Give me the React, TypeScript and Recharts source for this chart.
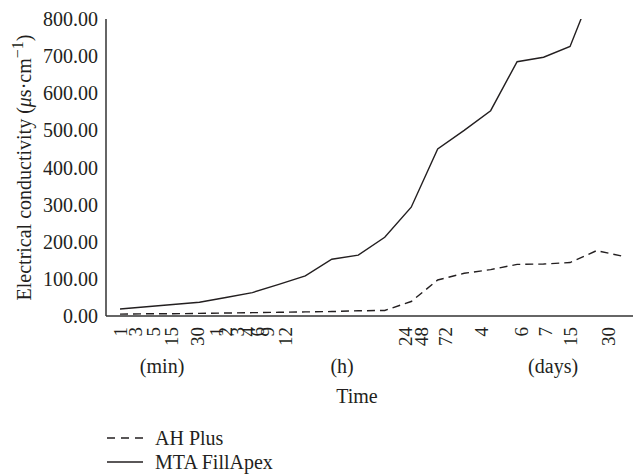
import React from "react";
import { LineChart, Line, XAxis, YAxis, Legend } from "recharts";

const FONT = '"Liberation Serif", "Times New Roman", serif';
const INK = "#231f20";

// sampling times (labels under the axis)
const timeLabels = ["1", "3", "5", "15", "30", "1", "2", "3", "4", "6", "9", "12", "24", "48", "72", "4", "6", "7", "15", "30"];
const ahPlus = [5, 6, 6, 7, 8, 9, 10, 11, 12, 14, 15, 39, 97, 115, 125, 139, 140, 144, 176, 161];
const mtaFillApex = [19, 25, 31, 37, 50, 63, 85, 108, 153, 164, 212, 293, 450, 500, 553, 685, 697, 726, 905, 960];
const yTicks = [0, 100, 200, 300, 400, 500, 600, 700, 800];

const seriesNames = ["AH Plus", "MTA FillApex"];
const seriesDash = ["8 5", undefined];

const groupLabels = ["(min)", "(h)", "(days)"];

// where the labels sit along the axis, in sample-index units (layout only)
const labelPos = [0, 0.6, 1.25, 1.96, 2.91, 3.63, 4.0, 4.42, 4.84, 5.21, 5.59, 6.27, 10.8, 11.37, 12.28, 13.64, 15.15, 16.09, 17.0, 18.47];
const groupPos = [1.59, 8.39, 16.36];
const titlePos = 8.95;

const data = timeLabels.map((time, i) => ({
  idx: i,
  time,
  ah: ahPlus[i],
  mta: mtaFillApex[i],
}));

function TimeTick(props: any) {
  const { x, y, payload } = props;
  const v = payload.value;
  const i = labelPos.indexOf(v);
  if (i >= 0) {
    return (
      <text
        transform={`translate(${x},${y + 3}) rotate(-90)`}
        textAnchor="end"
        dominantBaseline="central"
        fontFamily={FONT}
        fontSize={19}
        fill={INK}
      >
        {timeLabels[i]}
      </text>
    );
  }
  const g = groupPos.indexOf(v);
  if (g >= 0) {
    return (
      <text x={x} y={y + 49} textAnchor="middle" fontFamily={FONT} fontSize={20} fill={INK}>
        {groupLabels[g]}
      </text>
    );
  }
  return (
    <text x={x} y={y + 79} textAnchor="middle" fontFamily={FONT} fontSize={20} fill={INK}>
      Time
    </text>
  );
}

function YTitle(props: any) {
  const { viewBox } = props;
  const cy = viewBox.y + viewBox.height / 2;
  return (
    <text
      transform={`translate(31,${cy}) rotate(-90)`}
      textAnchor="middle"
      fontFamily={FONT}
      fontSize={20}
      fill={INK}
    >
      Electrical conductivity (<tspan fontStyle="italic">μ</tspan>s·cm
      <tspan baselineShift="super" fontSize={16}>−1</tspan>)
    </text>
  );
}

function LegendContent() {
  return (
    <div style={{ fontFamily: FONT, fontSize: 20, color: INK }}>
      {seriesNames.map((name, i) => (
        <div key={name} style={{ display: "flex", alignItems: "center", height: 24 }}>
          <svg width={48} height={10} style={{ marginLeft: 107 }}>
            <line
              x1={0}
              y1={5}
              x2={36}
              y2={5}
              stroke={INK}
              strokeWidth={1.4}
              strokeDasharray={seriesDash[i] ? "8 6" : undefined}
            />
          </svg>
          <span>{name}</span>
        </div>
      ))}
    </div>
  );
}

export default function App() {
  return (
    <div style={{ width: 633, height: 474, overflow: "hidden" }}>
      <style>{"body{margin:0}"}</style>
      <LineChart width={633} height={474} data={data} margin={{ top: 19, right: 0, bottom: 57, left: 0 }}>
        <XAxis
          dataKey="idx"
          type="number"
          domain={[0, 19]}
          allowDataOverflow
          padding={{ left: 14, right: 10 }}
          ticks={[...labelPos, ...groupPos, titlePos]}
          interval={0}
          tick={<TimeTick />}
          tickLine={false}
          axisLine={{ stroke: "#333", strokeWidth: 1.5 }}
          height={101}
        />
        <YAxis
          domain={[0, 800]}
          allowDataOverflow
          ticks={yTicks}
          interval={0}
          width={106}
          tickLine={false}
          axisLine={{ stroke: "#333", strokeWidth: 1.5 }}
          tick={{ fill: INK, fontSize: 20, fontFamily: FONT }}
          tickFormatter={(v: number) => v.toFixed(2)}
          label={{ content: <YTitle /> }}
        />
        <Legend
          layout="vertical"
          align="center"
          verticalAlign="middle"
          wrapperStyle={{ left: 0, top: 426, width: 400 }}
          content={<LegendContent />}
        />
        <Line
          dataKey="ah"
          name={seriesNames[0]}
          type="linear"
          stroke={INK}
          strokeWidth={1.4}
          strokeDasharray={seriesDash[0]}
          dot={false}
          activeDot={false}
          isAnimationActive={false}
        />
        <Line
          dataKey="mta"
          name={seriesNames[1]}
          type="linear"
          stroke={INK}
          strokeWidth={1.4}
          dot={false}
          activeDot={false}
          isAnimationActive={false}
        />
      </LineChart>
    </div>
  );
}
